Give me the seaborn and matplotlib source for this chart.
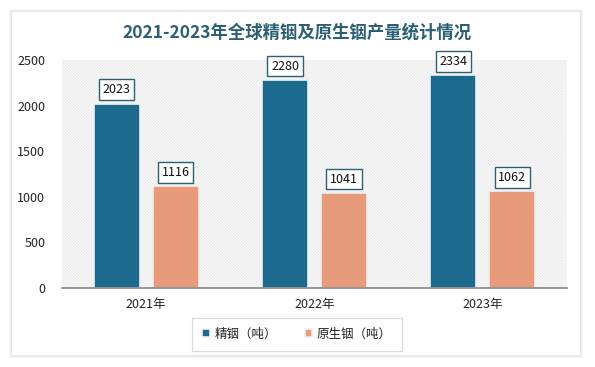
import pandas as pd
import matplotlib.pyplot as plt
import seaborn as sns
from matplotlib.patches import Rectangle

sns.set_theme(style="white")
plt.rcParams['font.family'] = ['Noto Sans CJK SC', 'DejaVu Sans']
plt.rcParams['hatch.linewidth'] = 0.6

years = ['2021年', '2022年', '2023年']
series = ['精铟（吨）', '原生铟（吨）']
refined = [2023, 2280, 2334]
primary = [1116, 1041, 1062]
yticks = [0, 500, 1000, 1500, 2000, 2500]

df = pd.DataFrame({
    'year': years * 2,
    'type': [series[0]] * 3 + [series[1]] * 3,
    'value': refined + primary,
})

colors = ['#1c6a8d', '#e79b7b']
title_c = '#2b6074'

fig = plt.figure(figsize=(5.95, 3.67), dpi=100)
fig.patch.set_facecolor('white')

# card with soft shadow
for i, c in enumerate(['#f5f5f5', '#eeeeee', '#e6e6e6']):
    d = (3 - i) / 595
    fig.patches.append(Rectangle((12 / 595 - d, 12 / 367 - d * 1.6), 568 / 595 + 2 * d,
                                 343 / 367 + 2 * d * 1.6, transform=fig.transFigure,
                                 facecolor=c, edgecolor='none', zorder=-3))
fig.patches.append(Rectangle((12 / 595, 12 / 367), 568 / 595, 343 / 367,
                             transform=fig.transFigure, facecolor='white',
                             edgecolor='none', zorder=-2))

ax = fig.add_axes([62 / 595, 1 - 288 / 367, 505 / 595, 228 / 367])
ax.set_facecolor('none')
ax.add_patch(Rectangle((0, 0), 1, 1, transform=ax.transAxes, facecolor='white',
                       edgecolor='#e2e2e2', hatch='\\' * 12, lw=0, zorder=0))

sns.barplot(data=df, x='year', y='value', hue='type', palette=colors,
            saturation=1, width=0.7, gap=0.22, edgecolor='#f0f0f0',
            linewidth=1.2, ax=ax, zorder=2)

for cont in ax.containers:
    for bar in cont:
        h = bar.get_height()
        ax.annotate(f'{int(h)}', (bar.get_x() + bar.get_width() / 2, h),
                    xytext=(0, 10), textcoords='offset points',
                    ha='center', va='center', fontsize=9, color='#111111',
                    bbox=dict(boxstyle='square,pad=0.3', fc='white',
                              ec=title_c, lw=1), zorder=5)

ax.set_ylim(0, 2500)
ax.set_yticks(yticks)
ax.set_xlim(-0.5, 2.5)
ax.tick_params(axis='both', labelsize=9, colors='#222222', length=0)
ax.tick_params(axis='x', pad=7)
ax.tick_params(axis='y', pad=12)
for s in ['top', 'right', 'left']:
    ax.spines[s].set_visible(False)
ax.spines['bottom'].set_color('#8a8a8a')
ax.set_xlabel('')
ax.set_ylabel('')
ax.grid(False)

leg = ax.legend(loc='center', bbox_to_anchor=(297 / 595, 1 - 334 / 367),
                bbox_transform=fig.transFigure, ncol=2, frameon=True,
                fontsize=9, handlelength=0.6, handleheight=0.6,
                handletextpad=0.4, columnspacing=2.2, borderpad=0.5)
leg.get_frame().set_edgecolor('#d0d0d0')
leg.get_frame().set_linewidth(0.8)
leg.get_frame().set_boxstyle('square')
for t in leg.get_texts():
    t.set_color('#222222')

fig.text(297 / 595, 1 - 33 / 367, '2021-2023年全球精铟及原生铟产量统计情况',
         ha='center', va='center', fontsize=12.5, fontweight='bold', color=title_c)

fig.savefig('out.png', dpi=100)
